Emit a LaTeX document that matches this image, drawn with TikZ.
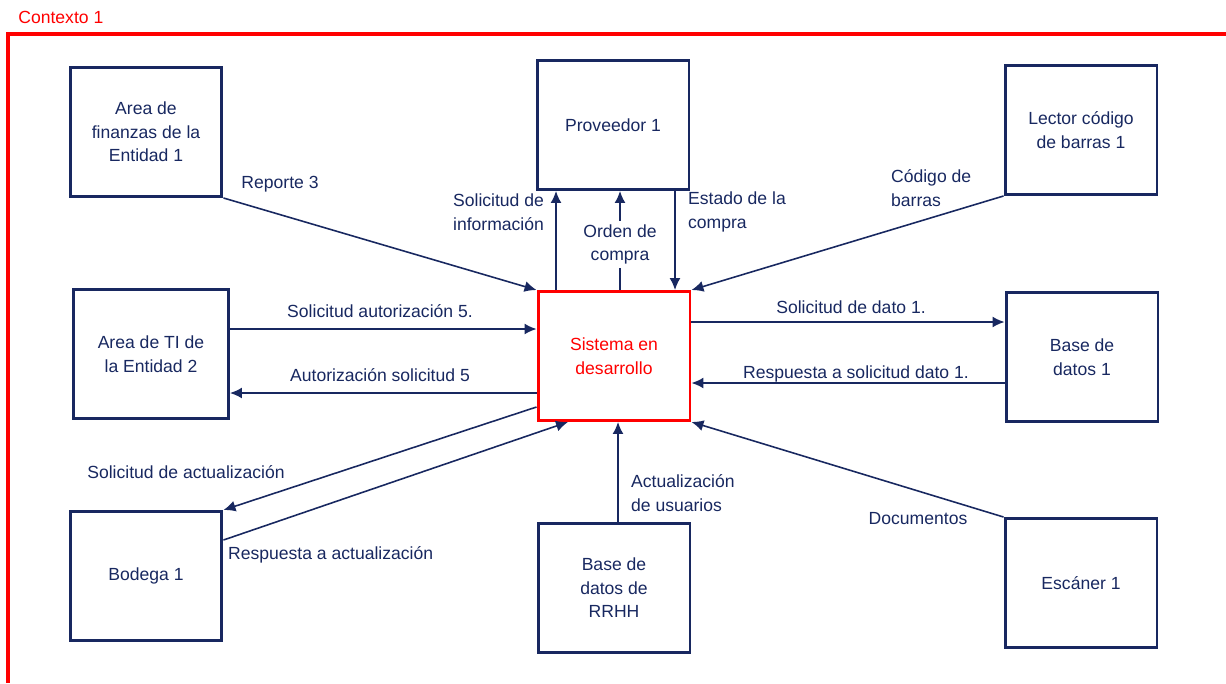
\documentclass[tikz,border=0pt]{standalone}
\usepackage{fontspec}
\setmainfont{Liberation Sans}
\usetikzlibrary{arrows.meta}

\definecolor{navy}{RGB}{24,40,96}

\begin{document}
\begin{tikzpicture}[
  x=0.02cm, y=-0.02cm,
  ent/.style={
    draw=navy,
    line width=1.7pt,
    text=navy,
    align=center,
    minimum width=3.04cm,
    minimum height=2.58cm,
    font=\fontsize{10}{13.4}\selectfont
  },
  sys/.style={ent, draw=red, text=red},
  flow/.style={-{Latex[length=2.4mm,width=2.2mm]}, draw=navy, line width=0.9pt},
  lbl/.style={text=navy, font=\fontsize{10}{13.4}\selectfont, inner sep=1pt, align=left}
]
\useasboundingbox (0,0) rectangle (1226,683);

% context frame
\node[anchor=west, text=red, font=\fontsize{10}{12}\selectfont, inner sep=0pt] (ctx) at (18,17) {Contexto 1};
\draw[red, line width=2.1pt] (1226,34) -- (8,34) -- (8,683);

% entities
\node[ent] (fin) at (146,132) {Area de\\finanzas de la\\Entidad 1};
\node[ent] (prov) at (613,125) {Proveedor 1};
\node[ent] (lector) at (1081,130) {Lector código\\de barras 1};
\node[ent, minimum width=3.1cm] (ti) at (151,354) {Area de TI de\\la Entidad 2};
\node[sys] (sis) at (614,356) {Sistema en\\desarrollo};
\node[ent] (bd) at (1082,357) {Base de\\datos 1};
\node[ent] (bod) at (146,576) {Bodega 1};
\node[ent] (rrhh) at (614,588) {Base de\\datos de\\RRHH};
\node[ent] (esc) at (1081,583) {Escáner 1};

% flows
\draw[flow] (fin.south east) -- (sis.north west);
\draw[flow] (sis.north -| 556,0) -- (prov.south -| 556,0);
\draw[flow] (sis.north -| 620,0) -- node[pos=0.46, lbl, fill=white, align=center, inner sep=2pt]{Orden de\\compra} (prov.south -| 620,0);
\draw[flow] (prov.south -| 675,0) -- (sis.north -| 675,0);
\draw[flow] (lector.south west) -- (sis.north east);
\draw[flow] (ti.east |- 0,329) -- (sis.west |- 0,329);
\draw[flow] (sis.west |- 0,393) -- (ti.east |- 0,393);
\draw[flow] (sis.east |- 0,322) -- (bd.west |- 0,322);
\draw[flow] (bd.west |- 0,383) -- (sis.east |- 0,383);
\draw[flow] (sis.west |- 0,407) -- (bod.north east);
\draw[flow] (bod.east |- 0,540) -- (sis.south -| 568,0);
\draw[flow] (rrhh.north -| 618,0) -- (sis.south -| 618,0);
\draw[flow] (esc.north west) -- (sis.south east);

% flow labels
\node[lbl] (l-rep) at (280,184) {Reporte 3};
\node[lbl, anchor=west] (l-info) at (451,212) {Solicitud de\\información};
\node[lbl, anchor=west] (l-est) at (686,212) {Estado de la\\compra};
\node[lbl, anchor=west] (l-cod) at (889,188) {Código de\\barras};
\node[lbl] (l-aut) at (380,311) {Solicitud autorización 5.};
\node[lbl] (l-resp) at (380,375) {Autorización solicitud 5};
\node[lbl] (l-dato) at (851,307) {Solicitud de dato 1.};
\node[lbl] (l-rdato) at (856,374) {Respuesta a solicitud dato 1.};
\node[lbl] (l-act) at (186,472) {Solicitud de actualización};
\node[lbl, anchor=west] (l-ract) at (226,555) {Respuesta a actualización};
\node[lbl, anchor=west] (l-usr) at (629,493) {Actualización\\de usuarios};
\node[lbl] (l-doc) at (918,519) {Documentos};
\end{tikzpicture}
\end{document}
